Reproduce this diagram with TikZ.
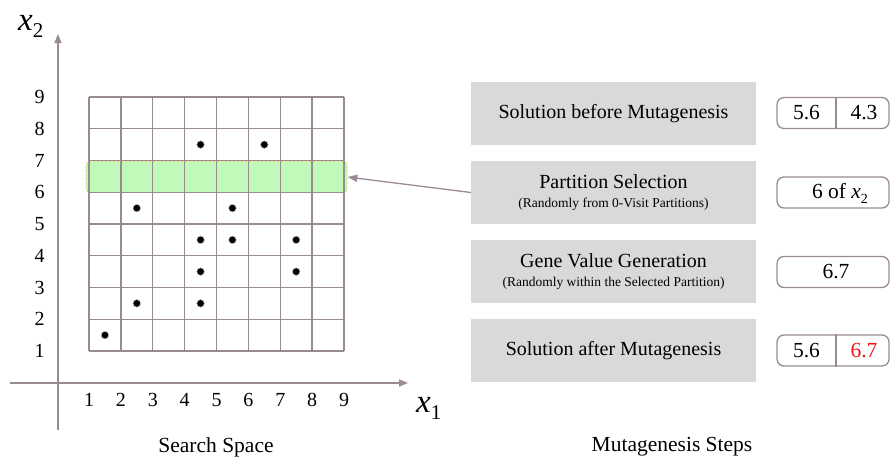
\documentclass[tikz,border=0pt]{standalone}
\usepackage{fontspec}
\setmainfont{LiberationSerif}[Extension=.ttf, UprightFont=*-Regular, ItalicFont=*-Italic, BoldFont=*-Bold, BoldItalicFont=*-BoldItalic]
\usetikzlibrary{arrows.meta}
\definecolor{ax}{RGB}{154,138,150}
\definecolor{boxgray}{RGB}{217,217,217}
\definecolor{bandgreen}{RGB}{192,250,184}
\definecolor{banddash}{RGB}{215,215,70}
\definecolor{valred}{RGB}{235,20,20}
\tikzset{
  axisline/.style={draw=ax, line width=1.4pt, -{Triangle[length=9pt,width=7pt]}},
  gridline/.style={draw=ax, line width=1.3pt},
  dotmark/.style={fill=black, draw=ax!60, line width=0.6pt},
  ticklbl/.style={font=\fontsize{20}{20}\selectfont, inner sep=0pt},
  stepbox/.style={fill=boxgray, minimum width=285pt, minimum height=63pt, inner sep=0pt, align=center, font=\fontsize{20}{22}\selectfont},
  valbox/.style={draw=ax, line width=1.3pt, rounded corners=7pt, minimum width=112pt, minimum height=31pt, inner sep=0pt},
  valtxt/.style={font=\fontsize{21.5}{22}\selectfont, inner sep=0pt},
  caption/.style={font=\fontsize{21.5}{22}\selectfont, inner sep=0pt},
  band/.style={fill=bandgreen, draw=banddash, dashed, dash pattern=on 2pt off 2pt, line width=0.8pt, rounded corners=4pt, minimum width=261pt, minimum height=31pt, inner sep=0pt},
  conn/.style={draw=ax, line width=1.3pt, -{Triangle[length=10pt,width=7pt]}}
}
\newcommand{\smallline}[1]{{\fontsize{13.5}{15}\selectfont #1}}
\begin{document}
\begin{tikzpicture}[x=1pt,y=-1pt]
\useasboundingbox (0,0) rectangle (890,461);
% band
\node[band] (band) at (216.5,177) {};
% grid
\begin{scope}[shift={(57.125pt,-382.75pt)}, x=31.875pt, y=31.75pt]
  \foreach \i in {1,...,9} {
    \draw[gridline] (\i,1) -- (\i,9);
    \draw[gridline] (1,\i) -- (9,\i);
    \node[ticklbl] (xl\i) at (\i,-0.55) {\i};
    \node[ticklbl] (yl\i) at (-0.55,\i) {\i};
  }
  \foreach \p in {(1.5,1.5),(2.5,2.5),(4.5,2.5),(4.5,3.5),(7.5,3.5),(4.5,4.5),(5.5,4.5),(7.5,4.5),(2.5,5.5),(5.5,5.5),(4.5,7.5),(6.5,7.5)}
    \fill[dotmark] \p circle (3.8pt);
\end{scope}
% axes
\coordinate (ybot) at (58,430);
\coordinate (ytop) at (58,34);
\coordinate (xleft) at (10,383);
\coordinate (xright) at (408,383);
\draw[axisline] (ybot) -- (ytop);
\draw[axisline] (xleft) -- (xright);
\node[inner sep=0pt, anchor=base west] (x2lbl) at (18,30) {\fontsize{33}{33}\selectfont\itshape x\raisebox{-7pt}{\fontsize{21}{21}\selectfont\upshape 2}};
\node[inner sep=0pt, anchor=base west] (x1lbl) at (416,412) {\fontsize{33}{33}\selectfont\itshape x\raisebox{-7pt}{\fontsize{21}{21}\selectfont\upshape 1}};
% captions
\node[caption] (cap1) at (216,447) {Search Space};
\node[caption] (cap2) at (672,447) {Mutagenesis Steps};
% step boxes
\node[stepbox] (s1) at (613.5,113.5) {Solution before Mutagenesis};
\node[stepbox] (s2) at (613.5,192.5) {Partition Selection\\[-3pt]\smallline{(Randomly from 0-Visit Partitions)}};
\node[stepbox] (s3) at (613.5,271.5) {Gene Value Generation\\[-3pt]\smallline{(Randomly within the Selected Partition)}};
\node[stepbox] (s4) at (613.5,350.5) {Solution after Mutagenesis};
% value boxes
\node[valbox] (v1) at (833,113) {};
\node[valbox] (v2) at (833,192.5) {};
\node[valbox] (v3) at (833,272) {};
\node[valbox] (v4) at (833,350.5) {};
\draw[gridline] (v1.north -| 836,0) -- (v1.south -| 836,0);
\draw[gridline] (v4.north -| 836,0) -- (v4.south -| 836,0);
\node[valtxt] (v1a) at (806.5,113) {5.6};
\node[valtxt] (v1b) at (864,113) {4.3};
\node[valtxt] (v2a) at (840,193) {6 of {\itshape x}\raisebox{-5pt}{\fontsize{14}{14}\selectfont 2}};
\node[valtxt] (v3a) at (836,272) {6.7};
\node[valtxt] (v4a) at (806.5,350.5) {5.6};
\node[valtxt, text=valred] (v4b) at (864,350.5) {6.7};
% connector
\draw[conn] (s2.west) -- (band.east);
\end{tikzpicture}
\end{document}
